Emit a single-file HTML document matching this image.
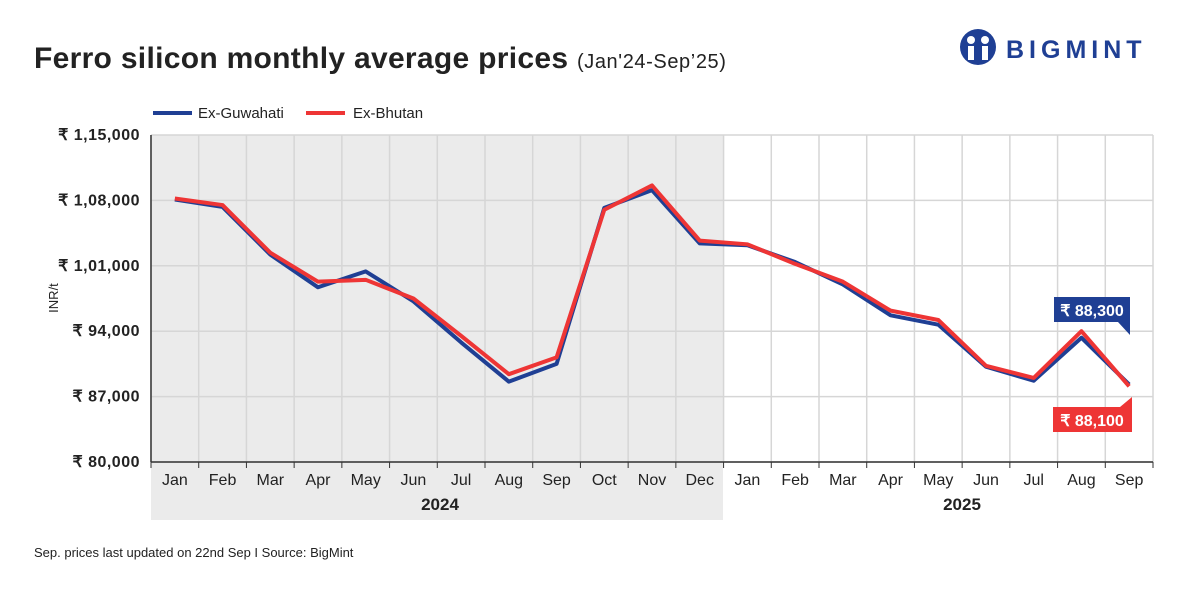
<!DOCTYPE html>
<html><head><meta charset="utf-8"><style>
body{margin:0;background:#fff;font-family:"Liberation Sans",sans-serif;}
svg text{font-family:"Liberation Sans",sans-serif;}
</style></head><body>
<svg id="c" width="1200" height="600" viewBox="0 0 1200 600">
<rect x="0" y="0" width="1200" height="600" fill="#fff"/>
<text x="34" y="68" font-size="30" font-weight="bold" fill="#222" letter-spacing="0.3">Ferro silicon monthly average prices <tspan font-size="20" font-weight="normal" letter-spacing="0.6">(Jan'24-Sep’25)</tspan></text>
<g>
<circle cx="978" cy="47" r="18" fill="#1f3f94"/>
<circle cx="971" cy="40" r="4" fill="#fff"/><circle cx="985" cy="40" r="4" fill="#fff"/>
<rect x="968" y="46" width="6" height="14" fill="#fff"/><rect x="982" y="46" width="6" height="14" fill="#fff"/>
<text x="1006" y="58" font-size="25" font-weight="bold" fill="#1f3f94" letter-spacing="5">BIGMINT</text>
</g>
<rect x="151" y="135" width="572" height="385" fill="#ebebeb"/>
<g id="grid"></g>
<g id="axes"></g>
<g id="series"></g>
<g>
<line x1="153" y1="113" x2="192" y2="113" stroke="#1f3f94" stroke-width="4"/>
<text x="198" y="118" font-size="15" fill="#222">Ex-Guwahati</text>
<line x1="306" y1="113" x2="345" y2="113" stroke="#ee3535" stroke-width="4"/>
<text x="353" y="118" font-size="15" fill="#222">Ex-Bhutan</text>
</g>
<text x="58" y="298" font-size="13" fill="#222" transform="rotate(-90 58 298)" text-anchor="middle">INR/t</text>
<g>
<path d="M1054 297 H1130 V335 L1118 322 H1054 Z" fill="#1f3f94"/>
<text x="1092" y="316" font-size="16" font-weight="bold" fill="#fff" text-anchor="middle">₹ 88,300</text>
</g>
<g>
<path d="M1053 407 H1120 L1132 397 V432 H1053 Z" fill="#ee3535"/>
<text x="1092" y="426" font-size="16" font-weight="bold" fill="#fff" text-anchor="middle">₹ 88,100</text>
</g>
<text x="34" y="557" font-size="13" fill="#222">Sep. prices last updated on 22nd Sep  I  Source: BigMint</text>
</svg>
<script>
const months=["Jan","Feb","Mar","Apr","May","Jun","Jul","Aug","Sep","Oct","Nov","Dec","Jan","Feb","Mar","Apr","May","Jun","Jul","Aug","Sep"];
const years=["2024","2025"];
const yTicks=[80000,87000,94000,101000,108000,115000];
const yTickLabels=["₹ 80,000","₹ 87,000","₹ 94,000","₹ 1,01,000","₹ 1,08,000","₹ 1,15,000"];
const guwahati=[108100,107300,102200,98700,100400,97200,92800,88600,90500,107200,109100,103400,103200,101400,99000,95700,94700,90200,88700,93300,88300];
const bhutan=[108200,107500,102400,99300,99500,97500,93500,89400,91200,107000,109600,103700,103300,101200,99300,96200,95200,90300,89000,94000,88100];
const NS="http://www.w3.org/2000/svg";
const L=151,R=1153,T=135,B=462,min=80000,max=115000;
const step=(R-L)/21;
const x=i=>L+step*(i+0.5);
const y=v=>B-(v-min)/(max-min)*(B-T);
function mk(t,a,p){const e=document.createElementNS(NS,t);for(const k in a)e.setAttribute(k,a[k]);p.appendChild(e);return e;}
const grid=document.getElementById('grid'),axes=document.getElementById('axes'),ser=document.getElementById('series');
yTicks.forEach((v,i)=>{
 const g=mk('line',{x1:L,x2:R,y1:y(v),y2:y(v),stroke:'#d6d6d6','stroke-width':1.5},grid);
 
 
 const t=mk('text',{x:140,y:y(v)+5,'font-size':16,'font-weight':'bold',fill:'#222','text-anchor':'end','letter-spacing':0.5},axes);
 t.textContent=yTickLabels[i];
 
 
});
for(let i=0;i<=21;i++){
 const xx=L+step*i;
 const g=mk('line',{x1:xx,x2:xx,y1:T,y2:B,stroke:'#d6d6d6','stroke-width':1.5},grid);
 
 
 const tk=mk('line',{x1:xx,x2:xx,y1:B,y2:B+6,stroke:'#333','stroke-width':1},axes);
 
 
}
const ax=mk('line',{x1:L,x2:R,y1:B,y2:B,stroke:'#333','stroke-width':1.5},axes);


const ay=mk('line',{x1:L,x2:L,y1:T,y2:B,stroke:'#333','stroke-width':1.5},axes);


months.forEach((m,i)=>{
 const t=mk('text',{x:x(i),y:485,'font-size':16,fill:'#222','text-anchor':'middle'},axes);
 t.textContent=m;
 
 
});
years.forEach((yr,i)=>{
 const cx=i==0?440:962;
 const t=mk('text',{x:cx,y:510,'font-size':17,'font-weight':'bold',fill:'#222','text-anchor':'middle'},axes);
 t.textContent=yr;
 
 
});
function line(d,c,name){
 const p=mk('polyline',{points:d.map((v,i)=>x(i)+','+y(v)).join(' '),fill:'none',stroke:c,'stroke-width':4,'stroke-linejoin':'round'},ser);
 
 
}
line(guwahati,'#1f3f94','series-ex-guwahati');
line(bhutan,'#ee3535','series-ex-bhutan');
</script>
</body></html>
